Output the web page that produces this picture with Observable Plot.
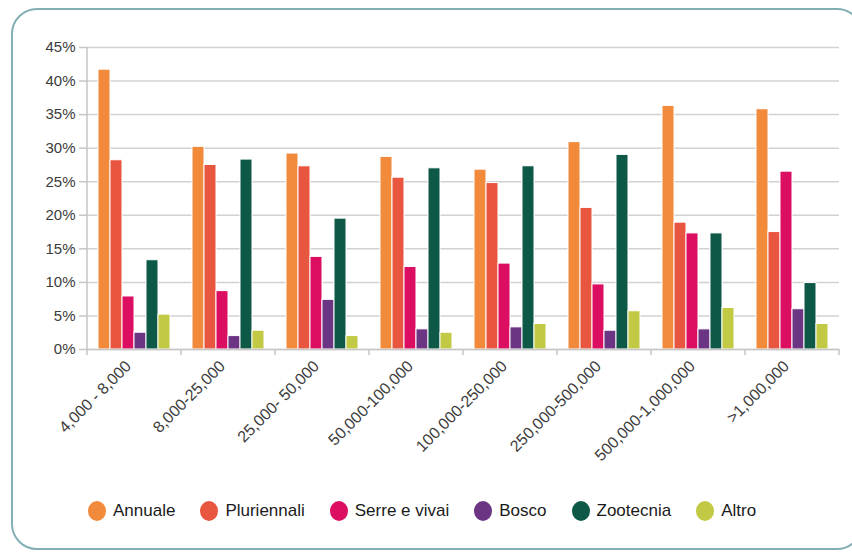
<!DOCTYPE html>
<html><head><meta charset="utf-8">
<script src="https://cdn.jsdelivr.net/npm/d3@7"></script>
<script src="https://cdn.jsdelivr.net/npm/@observablehq/plot@0.6"></script>
<style>
body{margin:0;background:#fff;font-family:"Liberation Sans",Arial,sans-serif;}
#wrap{position:relative;width:852px;height:552px;overflow:hidden;background:#fff;}
#border{position:absolute;left:11px;top:8px;width:852px;height:542px;border:2px solid #82aeb4;border-radius:26px;box-sizing:border-box;}
#chart{position:absolute;left:0;top:0;}
#legend{position:absolute;top:501px;left:88px;display:flex;align-items:center;gap:25px;font-size:17px;color:#1a1a1a;}
.item{display:flex;align-items:center;gap:7px;}
.dot{width:18px;height:20px;border-radius:50%;display:inline-block;}
</style></head>
<body>
<div id="wrap"><div id="border"></div><div id="chart"></div><div id="legend"></div></div>
<script>
const categories = ["4,000 - 8,000","8,000-25,000","25,000- 50,000","50,000-100,000","100,000-250,000","250,000-500,000","500,000-1,000,000",">1,000,000"];
const series = ["Annuale","Pluriennali","Serre e vivai","Bosco","Zootecnia","Altro"];
const annuale     = [41.7,30.2,29.2,28.7,26.8,30.9,36.3,35.8];
const pluriennali = [28.2,27.5,27.3,25.6,24.8,21.1,18.9,17.5];
const serre       = [7.9,8.7,13.8,12.3,12.8,9.7,17.3,26.5];
const bosco       = [2.5,2.0,7.4,3.0,3.3,2.8,3.0,6.0];
const zootecnia   = [13.3,28.3,19.5,27.0,27.3,29.0,17.3,9.9];
const altro       = [5.2,2.8,2.0,2.5,3.8,5.7,6.2,3.8];
const colors = ["#f28a3c","#e9563f","#db0e62","#6b3584","#0d5847","#c2ca45"];
const yTicks = [0,0.05,0.10,0.15,0.20,0.25,0.30,0.35,0.40,0.45];

const values = [annuale,pluriennali,serre,bosco,zootecnia,altro];
const data = categories.flatMap((c,i)=>series.map((s,j)=>({category:c, series:s, value:values[j][i]/100})));

const plot = Plot.plot({
  width: 852, height: 480,
  marginLeft: 85, marginRight: 12, marginTop: 47, marginBottom: 131,
  style: {fontFamily: '"Liberation Sans", Arial, sans-serif', background: "transparent", overflow: "visible"},
  fx: {domain: categories, padding: 0, label: null},
  x: {domain: series, paddingInner: 0, paddingOuter: 0.85, axis: null},
  y: {domain: [0, 0.45], label: null},
  color: {domain: series, range: colors},
  marks: [
    Plot.gridY(yTicks, {stroke: "#d2d2d2", strokeOpacity: 1, strokeWidth: 1.5}),
    Plot.barY(data, {fx: "category", x: "series", y: "value", fill: "series", stroke: "white", strokeWidth: 1}),
    Plot.ruleY([0], {stroke: "#c6c6c6", strokeWidth: 1.5}),
    Plot.axisY(yTicks, {tickSize: 8, tickPadding: 4, fontSize: 15, fill: "#3c3c3c", stroke: "#c6c6c6", strokeWidth: 1.5, tickFormat: d => Math.round(d*100) + "%"}),
    Plot.axisFx({anchor: "bottom", tickSize: 0, tickPadding: 14, dx: -6, tickRotate: -45, fontSize: 16, fill: "#3c3c3c", label: null})
  ]
});

const fx = plot.scale("fx"), y = plot.scale("y");
const g = d3.select(plot).append("g").attr("stroke", "#c6c6c6").attr("stroke-width", 1.5);
const y0 = y.apply(0);
g.append("line").attr("x1", fx.apply(categories[0])).attr("x2", fx.apply(categories[0]))
  .attr("y1", y.apply(0.45)).attr("y2", y0 + 6);
const bounds = categories.map(c => fx.apply(c)).concat([fx.apply(categories[categories.length-1]) + fx.bandwidth]);
bounds.slice(1).forEach(b => g.append("line").attr("x1", b).attr("x2", b).attr("y1", y0).attr("y2", y0 + 6));
document.getElementById("chart").appendChild(plot);

const legend = document.getElementById("legend");
series.forEach((s,i) => {
  const it = document.createElement("div"); it.className = "item";
  const dot = document.createElement("span"); dot.className = "dot"; dot.style.background = colors[i];
  const t = document.createElement("span"); t.textContent = s;
  it.appendChild(dot); it.appendChild(t); legend.appendChild(it);
});
</script>
</body></html>
